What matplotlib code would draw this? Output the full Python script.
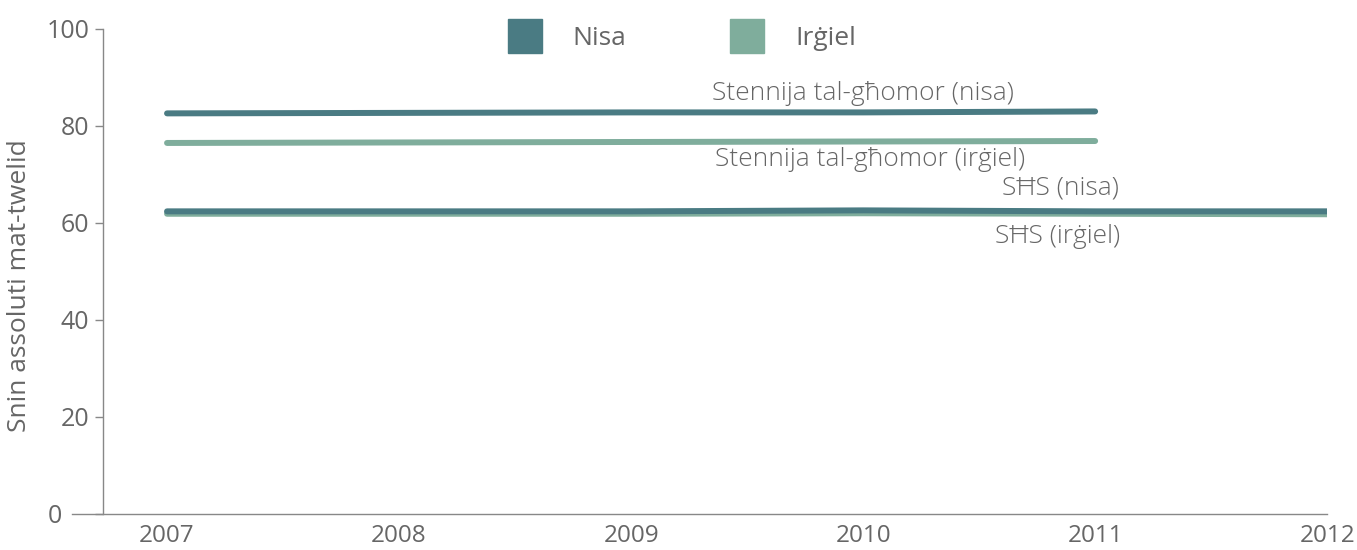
import numpy as np
import matplotlib
matplotlib.use("Agg")
import matplotlib.pyplot as plt
import matplotlib.transforms as mtransforms
from matplotlib.lines import Line2D

years = [2007, 2008, 2009, 2010, 2011, 2012]
le_nisa = [82.6, 82.7, 82.8, 82.8, 83.0]
le_irgiel = [76.5, 76.6, 76.7, 76.8, 76.9]
shs_nisa = [62.4, 62.4, 62.4, 62.6, 62.4, 62.4]
shs_irgiel = [61.9, 61.9, 61.9, 62.0, 61.9, 61.8]

c_nisa = "#4a7b83"
c_irgiel = "#7fad9c"
grey = "#666666"

plt.rcParams['font.family'] = ['Open Sans', 'DejaVu Sans']

fig = plt.figure(figsize=(13.57, 5.5), dpi=100)
ax = fig.add_axes([0.0759, 0.0655, 0.9021, 0.8818])

lw = 4.3
ax.plot(years[:5], le_irgiel, color=c_irgiel, lw=lw, solid_capstyle="round")
ax.plot(years[:5], le_nisa, color=c_nisa, lw=lw, solid_capstyle="round")
ax.plot(years, shs_irgiel, color=c_irgiel, lw=lw, solid_capstyle="round")
ax.plot(years, shs_nisa, color=c_nisa, lw=lw, solid_capstyle="round")

fs = 19
ax.text(2010.0, 86.8, "Stennija tal-għomor (nisa)", ha="center", va="center", fontsize=fs, color=grey, fontweight="light")
ax.text(2010.03, 73.0, "Stennija tal-għomor (irġiel)", ha="center", va="center", fontsize=fs, color=grey, fontweight="light")
ax.text(2010.85, 67.2, "SĦS (nisa)", ha="center", va="center", fontsize=fs, color=grey, fontweight="light")
ax.text(2010.84, 57.3, "SĦS (irġiel)", ha="center", va="center", fontsize=fs, color=grey, fontweight="light")

ax.set_xlim(2006.724, 2012)
ax.set_ylim(0, 100)
ax.set_xticks(years)
ax.set_yticks([0, 20, 40, 60, 80, 100])
ax.tick_params(axis="x", length=0, pad=7, labelsize=17.5, labelcolor=grey)
ax.tick_params(axis="y", length=6, width=1, color="#888888", pad=4, labelsize=18, labelcolor=grey)
for s in ["top", "right"]:
    ax.spines[s].set_visible(False)
for s in ["left", "bottom"]:
    ax.spines[s].set_color("#888888")
    ax.spines[s].set_linewidth(1)
ax.spines["bottom"].set_bounds(2006.59, 2012)

# push the "0" label left of the extended baseline
zero_lbl = ax.yaxis.get_major_ticks()[0].label1
zero_lbl.set_transform(zero_lbl.get_transform() +
                       mtransforms.ScaledTranslation(-0.27, 0, fig.dpi_scale_trans))

ax.set_ylabel("Snin assoluti mat-twelid", fontsize=fs, color=grey)
ax.yaxis.set_label_coords(-0.058, 0.47)

handles = [Line2D([], [], marker="s", ls="none", color=c_nisa, markersize=25),
           Line2D([], [], marker="s", ls="none", color=c_irgiel, markersize=25)]
fig.legend(handles, ["Nisa", "Irġiel"], loc="center", bbox_to_anchor=(0.499, 0.93),
           ncol=2, frameon=False, fontsize=fs, labelcolor=grey, columnspacing=3.6,
           handletextpad=0.8)

fig.savefig("out.png", dpi=100)
